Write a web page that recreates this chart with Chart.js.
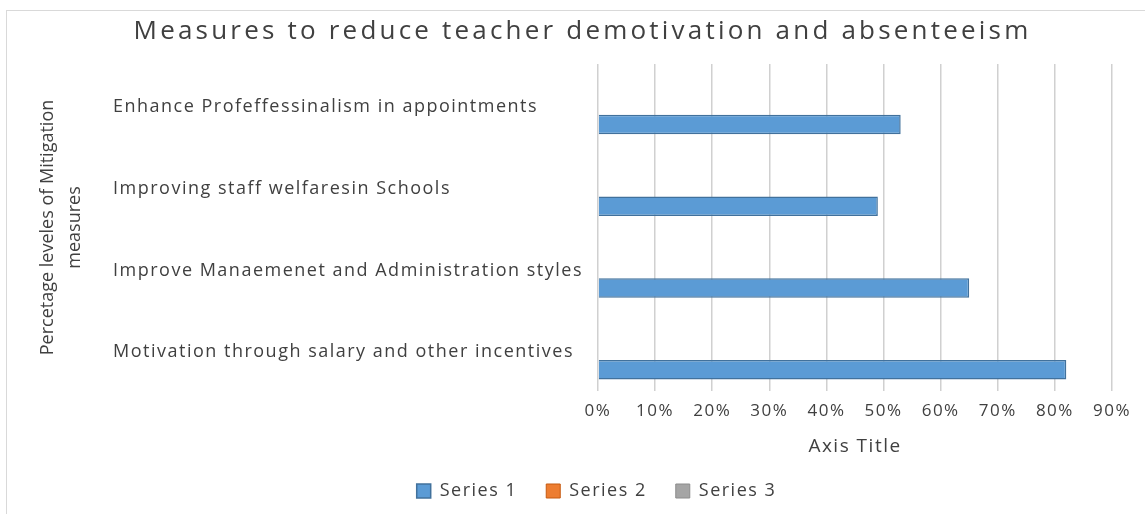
<!DOCTYPE html>
<html><head><meta charset="utf-8">
<script src="https://cdn.jsdelivr.net/npm/chart.js@4.4.1/dist/chart.umd.min.js"></script>
<style>html,body{margin:0;padding:0;background:#fff;} canvas{display:block;}</style>
</head><body>
<canvas id="c" width="1145" height="514"></canvas>
<script>
const chartTitle = 'Measures to reduce teacher demotivation and absenteeism';
// categories listed top to bottom as they appear in the chart
const categories = [
  'Enhance Profeffessinalism in appointments',
  'Improving staff welfaresin Schools',
  'Improve Manaemenet and Administration styles',
  'Motivation through salary and other incentives'
];
const series1 = [0.53, 0.49, 0.65, 0.82];
const series2 = [0, 0, 0, 0];
const series3 = [0, 0, 0, 0];
const xTickValues = [0, 0.1, 0.2, 0.3, 0.4, 0.5, 0.6, 0.7, 0.8, 0.9];
const yAxisTitle = ['Percetage leveles of Mitigation', 'measures'];
const xAxisTitle = 'Axis Title';

const FONT = "'Open Sans', sans-serif";
const TEXT = '#404040';
const SPACING = '1.5px';

function withSpacing(obj, method, sp) {
  if (!obj || (obj.__wrapped && obj.__wrapped[method])) return;
  const orig = obj[method];
  obj[method] = function (...args) {
    const ctx = this.ctx;
    const prev = ctx.letterSpacing;
    ctx.letterSpacing = sp;
    const r = orig.apply(this, args);
    ctx.letterSpacing = prev;
    return r;
  };
  (obj.__wrapped = obj.__wrapped || {})[method] = true;
}
function withShift(obj, method, dx, dy) {
  if (!obj || (obj.__shifted && obj.__shifted[method])) return;
  const orig = obj[method];
  obj[method] = function (...args) {
    const ctx = this.ctx;
    ctx.save();
    ctx.translate(dx, dy);
    const r = orig.apply(this, args);
    ctx.restore();
    return r;
  };
  (obj.__shifted = obj.__shifted || {})[method] = true;
}

const pagePlugin = {
  id: 'page',
  beforeUpdate(c) { c.ctx.letterSpacing = SPACING; },
  afterLayout(c) {
    withSpacing(c.titleBlock, 'draw', '3.2px');
    withSpacing(c.scales.yT, 'drawTitle', '0px');
    withShift(c.scales.y, 'drawLabels', 0, 2);
    withShift(c.legend, 'draw', 14, 0);
  },
  beforeDraw(c) {
    const ctx = c.ctx;
    ctx.letterSpacing = SPACING;
    ctx.save();
    ctx.fillStyle = '#fff';
    ctx.fillRect(0, 0, c.width, c.height);
    ctx.strokeStyle = '#d9d9d9';
    ctx.lineWidth = 1;
    ctx.strokeRect(6.5, 10.5, 1150, 520);
    ctx.restore();
  }
};

new Chart(document.getElementById('c'), {
  type: 'bar',
  data: {
    labels: categories,
    datasets: [
      { label: 'Series 3', data: series3, backgroundColor: '#a5a5a5', borderColor: '#8c8c8c', borderWidth: 1, inflateAmount: 0, xAxisID: 'x', yAxisID: 'y' },
      { label: 'Series 2', data: series2, backgroundColor: '#ed7d31', borderColor: '#c55a11', borderWidth: 1, inflateAmount: 0, xAxisID: 'x', yAxisID: 'y' },
      { label: 'Series 1', data: series1, backgroundColor: '#5b9bd5', borderColor: '#41719c', borderWidth: 1.5, xAxisID: 'x', yAxisID: 'y' }
    ]
  },
  options: {
    indexAxis: 'y',
    responsive: false,
    animation: false,
    devicePixelRatio: 1,
    layout: { padding: { left: 6, right: -14, top: 14, bottom: 4 } },
    datasets: { bar: { categoryPercentage: 0.72, barPercentage: 1 } },
    plugins: {
      title: { display: true, text: chartTitle, color: TEXT, font: { family: FONT, size: 26, weight: 'normal' }, padding: { top: 2, bottom: 16.8 } },
      legend: { position: 'bottom', reverse: true, labels: { boxWidth: 14, boxHeight: 14, padding: 29, color: TEXT, font: { family: FONT, size: 18 } } },
      tooltip: { enabled: false }
    },
    scales: {
      x: {
        type: 'linear', position: 'bottom', min: 0, max: 0.9,
        afterBuildTicks: s => { s.ticks = xTickValues.map(v => ({ value: v })); },
        ticks: { callback: v => Math.round(v * 100) + '%', color: TEXT, font: { family: FONT, size: 17 }, padding: 10 },
        grid: { color: '#d0d0d0', lineWidth: 1.5, drawTicks: false },
        border: { display: false },
        title: { display: true, text: xAxisTitle, color: TEXT, font: { family: FONT, size: 19 }, padding: { top: 8, bottom: -5.4 } },
        afterFit: s => { s.height = 62; }
      },
      y: {
        type: 'category', position: 'left', weight: 0,
        grid: { display: false }, border: { display: false },
        ticks: { crossAlign: 'far', color: TEXT, font: { family: FONT, size: 18 }, autoSkip: false },
        afterFit: s => { s.width = 485; }
      },
      yT: {
        type: 'linear', axis: 'y', position: 'left', weight: 1,
        ticks: { display: false }, grid: { display: false }, border: { display: false },
        title: { display: true, text: yAxisTitle, color: TEXT, font: { family: FONT, size: 18, lineHeight: 1.5 }, padding: { top: 28.5, bottom: 0 } },
        afterFit: s => { s.width = 107; }
      },
      yR: {
        type: 'linear', axis: 'y', position: 'right', weight: 0,
        ticks: { display: false }, grid: { display: false }, border: { display: false },
        afterFit: s => { s.width = 47; }
      }
    }
  },
  plugins: [pagePlugin]
});
</script>
</body></html>
